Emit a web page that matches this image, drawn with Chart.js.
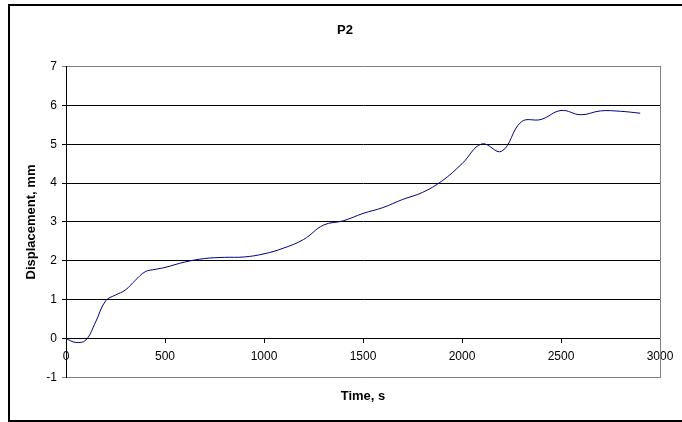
<!DOCTYPE html>
<html lang="en">
<head>
    <meta charset="UTF-8">
    <title>P2</title>
    <script src="https://cdn.jsdelivr.net/npm/chart.js"></script>
    <style>
        body { margin: 0; background: #fff; overflow: hidden; }
        .wrap { position: relative; width: 682px; height: 422px; }
        .frame { position: absolute; left: 8px; top: 4px; width: 700px; height: 418px; box-sizing: border-box; border: 2px solid #000; pointer-events: none; }
    </style>
</head>
<body>
    <div class="wrap">
        <canvas id="chart" width="682" height="422"></canvas>
        <div class="frame"></div>
    </div>

    <script>
        // readings for P2
        const times = [0, 50, 100, 150, 200, 250, 300, 350, 400, 450, 500, 600, 700, 800, 900, 1000,
                       1100, 1200, 1300, 1400, 1500, 1600, 1700, 1800, 1900, 2000, 2100, 2200, 2300,
                       2400, 2500, 2600, 2700, 2800, 2900];
        const displacement = [0, -0.10, -0.04, 0.43, 0.97, 1.12, 1.25, 1.5, 1.72, 1.78, 1.83, 1.97, 2.06, 2.09, 2.10, 2.18,
                              2.33, 2.55, 2.92, 3.03, 3.22, 3.37, 3.58, 3.76, 4.06, 4.50, 5.01, 4.82, 5.58,
                              5.64, 5.87, 5.76, 5.86, 5.85, 5.80];
        const xRange = [0, 3000];
        const yRange = [-1, 7];

        const font = { family: 'Arial, "Liberation Sans", sans-serif', size: 12 };
        const boldFont = { family: font.family, size: 13, weight: 'bold' };

        new Chart(document.getElementById("chart"), {
            type: "line",
            data: {
                datasets: [{
                    label: "P2",
                    data: times.map((t, i) => ({ x: t, y: displacement[i] })),
                    borderColor: "#000080",
                    borderWidth: 1,
                    pointRadius: 0,
                    tension: 0.4,
                    fill: false
                }]
            },
            options: {
                responsive: false,
                animation: false,
                layout: { padding: { left: 8, right: 0, top: 0, bottom: 0 } },
                plugins: {
                    legend: { display: false },
                    tooltip: { enabled: false },
                    title: {
                        display: true,
                        text: "P2",
                        color: "#000",
                        font: boldFont,
                        padding: { top: 23, bottom: 28 }
                    }
                },
                scales: {
                    x: {
                        type: "linear",
                        min: xRange[0],
                        max: xRange[1],
                        position: { y: 0 },
                        ticks: { stepSize: 500, color: "#000", font: font, padding: 7, maxRotation: 0, callback: v => String(v) },
                        grid: { drawOnChartArea: false, drawTicks: true, tickLength: 4, color: "#000" },
                        border: { display: true, color: "#000", width: 1 }
                    },
                    xTitle: {
                        type: "linear",
                        min: xRange[0],
                        max: xRange[1],
                        position: "bottom",
                        ticks: { display: false },
                        grid: { display: false, drawTicks: false },
                        border: { display: false },
                        title: { display: true, text: "Time, s", color: "#000", font: boldFont, padding: { top: 11, bottom: 18 } }
                    },
                    y: {
                        min: yRange[0],
                        max: yRange[1],
                        position: "left",
                        afterFit: scale => { scale.width = 58; },
                        ticks: { stepSize: 1, color: "#000", font: font, padding: 5 },
                        grid: {
                            color: ctx => (ctx.tick && (ctx.tick.value === 7 || ctx.tick.value === -1)) ? "#808080" : "#000",
                            tickLength: 4,
                            drawTicks: true
                        },
                        border: { display: true, color: "#000", width: 1 },
                        title: { display: true, text: "Displacement, mm", color: "#000", font: boldFont, padding: { top: 16, bottom: 0 } }
                    },
                    yRight: {
                        min: yRange[0],
                        max: yRange[1],
                        position: "right",
                        afterFit: scale => { scale.width = 22; },
                        ticks: { display: false },
                        grid: { drawOnChartArea: false, drawTicks: false },
                        border: { display: true, color: "#808080", width: 1 }
                    }
                }
            }
        });
    </script>
</body>
</html>
